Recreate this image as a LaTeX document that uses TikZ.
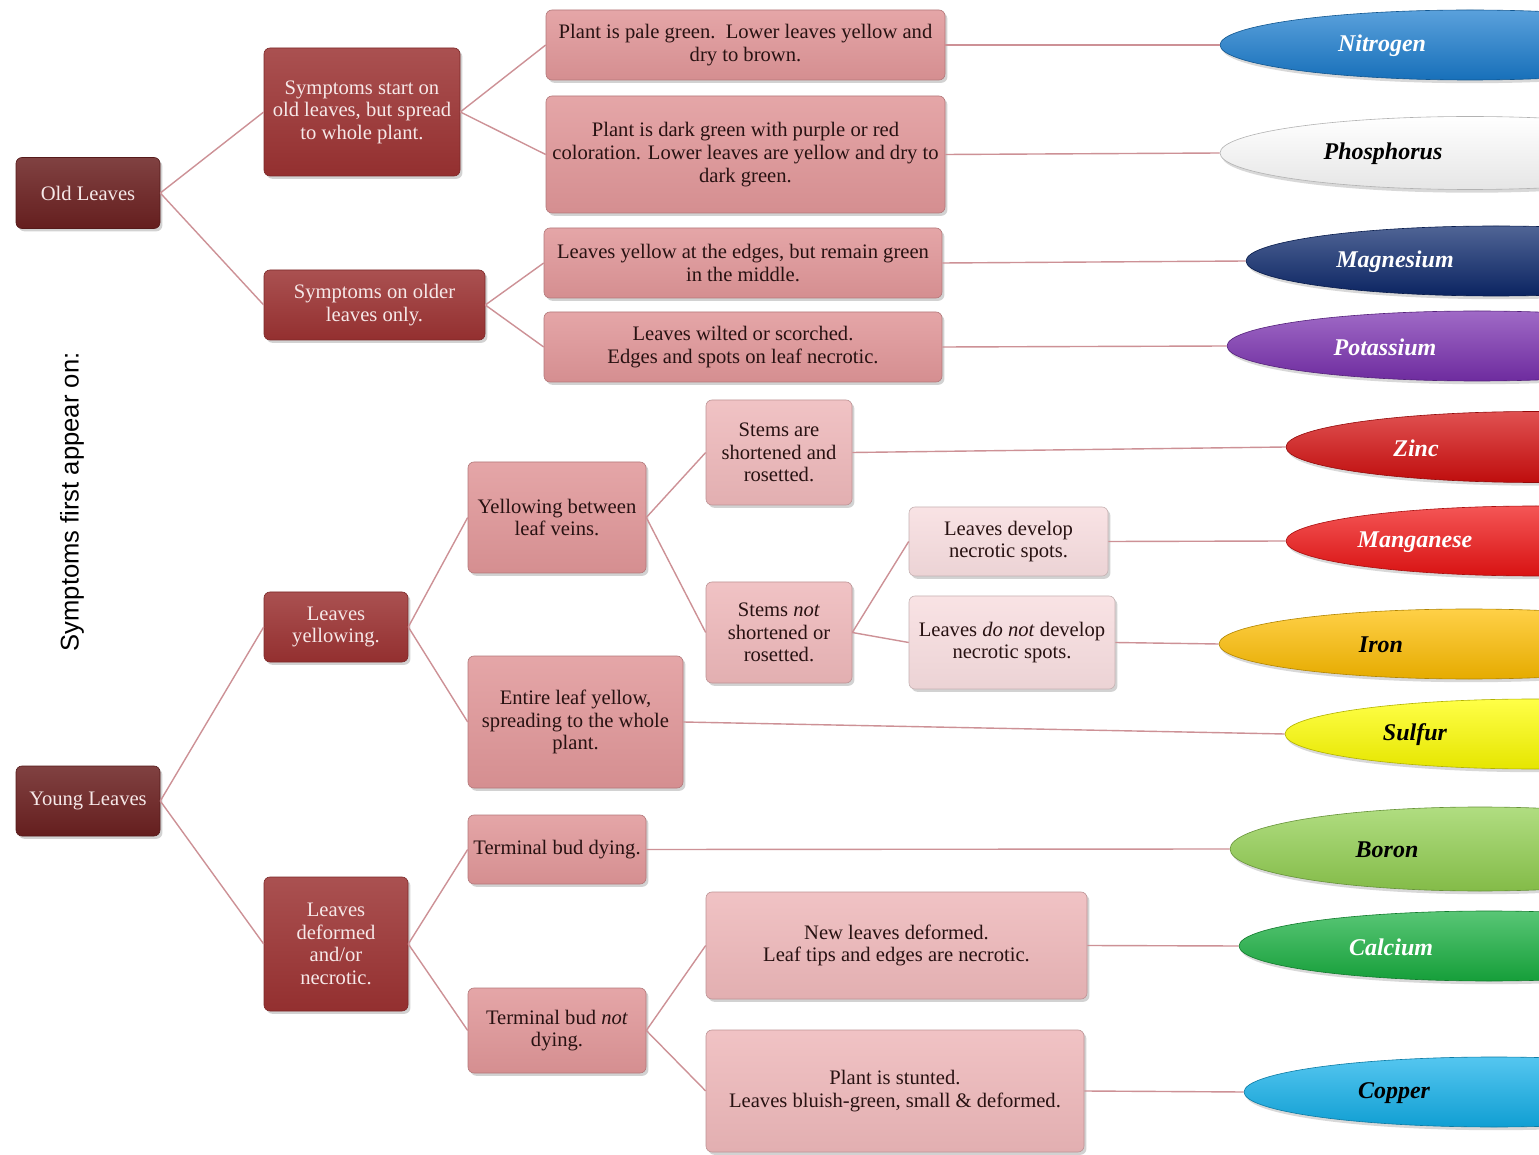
\documentclass[tikz,border=0pt]{standalone}
\usepackage{fontspec}
\setmainfont{Liberation Serif}
\newfontfamily\sidefont{Liberation Sans}
\usetikzlibrary{shapes.geometric,shadows}
\definecolor{rootred}{RGB}{106,32,32}
\definecolor{midred}{RGB}{155,50,50}
\definecolor{pinkA}{RGB}{224,150,152}
\definecolor{pinkB}{RGB}{238,184,186}
\definecolor{pinkC}{RGB}{248,222,224}
\definecolor{lighttext}{RGB}{246,232,232}
\definecolor{darktext}{RGB}{40,18,18}
\definecolor{linkcol}{RGB}{205,145,150}
\definecolor{nitrogen}{RGB}{26,124,206}
\definecolor{phosphorus}{RGB}{255,255,255}
\definecolor{magnesium}{RGB}{12,40,108}
\definecolor{potassium}{RGB}{122,48,176}
\definecolor{zinc}{RGB}{212,14,14}
\definecolor{manganese}{RGB}{240,20,20}
\definecolor{iron}{RGB}{255,190,0}
\definecolor{sulfur}{RGB}{255,255,0}
\definecolor{boron}{RGB}{146,208,80}
\definecolor{calcium}{RGB}{24,176,64}
\definecolor{copper}{RGB}{18,176,234}
\newcommand\boxfont{\fontsize{10.3}{11.3}\selectfont}
\begin{document}
\begin{tikzpicture}[x=0.5pt, y=-0.5pt]
	\tikzset{box/.style={rounded corners=3pt, align=center, inner sep=2pt,
		top color=#1!85!white, bottom color=#1!95!black, draw=#1!80!black, line width=0.3pt,
		drop shadow={shadow xshift=1.2pt, shadow yshift=-1.4pt, opacity=0.35}, font=\boxfont},
		oldbox/.style={box=rootred, text=lighttext},
		midbox/.style={box=midred, text=lighttext},
		palebox/.style={box=pinkA, text=darktext},
		lightbox/.style={box=pinkB, text=darktext},
		faintbox/.style={box=pinkC, text=darktext},
		elem/.style={ellipse, minimum width=250pt, line width=0.3pt,
			drop shadow={shadow xshift=1pt, shadow yshift=-1.6pt, opacity=0.3}},
		elemtext/.style={font=\fontsize{12}{14}\selectfont\bfseries\itshape},
		link/.style={draw=linkcol, line width=0.7pt}};
	\useasboundingbox (0,0) rectangle (1539,1155);
	\clip (0,0) rectangle (1539,1155);
	\fill[white] (0,0) rectangle (1539,1155);

	\node[rotate=90, font=\sidefont\fontsize{12.8}{14}\selectfont] (title) at (72,502) {Symptoms first appear on:};

	\node[oldbox, minimum width=72pt, minimum height=35.5pt] (old) at (88,193) {Old Leaves};
	\node[oldbox, minimum width=72pt, minimum height=35pt] (young) at (88,801) {Young Leaves};

	\node[midbox, minimum width=98pt, minimum height=64pt] (s1) at (362,112) {Symptoms start on\\old leaves, but spread\\to whole plant.};
	\node[midbox, minimum width=110.5pt, minimum height=35pt] (s2) at (374.5,305) {Symptoms on older\\leaves only.};
	\node[midbox, minimum width=72pt, minimum height=35pt] (y1) at (336,627) {Leaves\\yellowing.};
	\node[midbox, minimum width=72pt, minimum height=67pt] (y2) at (336,944) {Leaves\\deformed\\and/or\\necrotic.};

	\node[palebox, minimum width=199.5pt, minimum height=35pt] (n1) at (745.5,45) {Plant is pale green.\ \ Lower leaves yellow and\\dry to brown.};
	\node[palebox, minimum width=199.5pt, minimum height=58.5pt] (n2) at (745.5,154.5) {Plant is dark green with purple or red\\coloration. Lower leaves are yellow and dry to\\dark green.};
	\node[palebox, minimum width=199pt, minimum height=35pt] (n3) at (743,263) {Leaves yellow at the edges, but remain green\\in the middle.};
	\node[palebox, minimum width=199pt, minimum height=35pt] (n4) at (743,347) {Leaves wilted or scorched.\\Edges and spots on leaf necrotic.};

	\node[palebox, minimum width=89pt, minimum height=55.5pt] (yy1) at (557,517.5) {Yellowing between\\leaf veins.};
	\node[palebox, minimum width=107.5pt, minimum height=66pt] (yy2) at (575.5,722) {Entire leaf yellow,\\spreading to the whole\\plant.};
	\node[palebox, minimum width=89pt, minimum height=34.5pt] (tb1) at (557,849.5) {Terminal bud dying.};
	\node[palebox, minimum width=89pt, minimum height=42.5pt] (tb2) at (557,1030.5) {Terminal bud \textit{not}\\dying.};

	\node[lightbox, minimum width=73pt, minimum height=52.5pt] (st1) at (779,452.5) {Stems are\\shortened and\\rosetted.};
	\node[lightbox, minimum width=73pt, minimum height=50.5pt] (st2) at (779,632.5) {Stems \textit{not}\\shortened or\\rosetted.};
	\node[lightbox, minimum width=190.5pt, minimum height=53.5pt] (nl) at (896.5,945.5) {New leaves deformed.\\Leaf tips and edges are necrotic.};
	\node[lightbox, minimum width=189pt, minimum height=61pt] (ps) at (895,1091) {Plant is stunted.\\Leaves bluish-green, small \& deformed.};

	\node[faintbox, minimum width=99.5pt, minimum height=34.5pt] (ld1) at (1008.5,541.5) {Leaves develop\\necrotic spots.};
	\node[faintbox, minimum width=103pt, minimum height=46.5pt] (ld2) at (1012,642.5) {Leaves \textit{do not} develop\\necrotic spots.};

	\foreach \nm/\lx/\cy/\tx/\hh/\col/\tcol/\lab in {
		nit/1220/45/1382/70/nitrogen/white/Nitrogen,
		pho/1220/153/1383/73/phosphorus/black/Phosphorus,
		mag/1246/261/1395/70/magnesium/white/Magnesium,
		pot/1227/346/1385/70/potassium/white/Potassium,
		zn/1286/447/1416/71/zinc/white/Zinc,
		mn/1286/541/1415/70/manganese/white/Manganese,
		fe/1219/644/1381/70/iron/black/Iron,
		su/1285/734/1415/70/sulfur/black/Sulfur,
		bo/1230/849/1387/84/boron/black/Boron,
		ca/1239/946/1391/70/calcium/white/Calcium,
		cu/1244/1092/1394/70/copper/black/Copper}{
		\node[elem, top color=\col!72!white, middle color=\col, bottom color=\col!90!black,
			draw=\col!70!black, minimum height=\hh*0.5pt] (\nm) at (\lx+250,\cy) {};
		\node[elemtext, text=\tcol] (\nm t) at (\tx,\cy+1) {\lab};
	}

	\foreach \a/\b in {old/s1, old/s2, s1/n1, s1/n2, s2/n3, s2/n4,
		young/y1, young/y2, y1/yy1, y1/yy2, yy1/st1, yy1/st2, st2/ld1, st2/ld2,
		y2/tb1, y2/tb2, tb2/nl, tb2/ps,
		n1/nit, n2/pho, n3/mag, n4/pot, st1/zn, ld1/mn, ld2/fe, yy2/su,
		tb1/bo, nl/ca, ps/cu}{
		\draw[link] (\a.east) -- (\b.west);
	}
\end{tikzpicture}
\end{document}
